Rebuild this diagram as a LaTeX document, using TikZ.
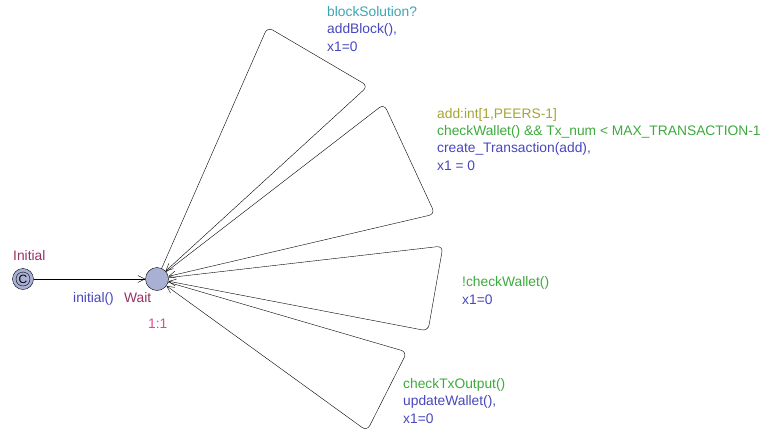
\documentclass[tikz,border=0pt]{standalone}
\usepackage{fontspec}
\setmainfont{Liberation Sans}
\usepackage{xcolor}
\usetikzlibrary{positioning, calc, arrows.meta}

\definecolor{locfill}{RGB}{168,176,212}
\definecolor{locname}{RGB}{150,50,100}
\definecolor{syncc}{RGB}{60,165,180}
\definecolor{assignc}{RGB}{70,70,190}
\definecolor{guardc}{RGB}{60,170,60}
\definecolor{selectc}{RGB}{165,165,50}
\definecolor{ratec}{RGB}{230,70,140}

\begin{document}
\begin{tikzpicture}[x=1pt, y=-1pt,
    loc/.style={circle, draw, fill=locfill, minimum size=23pt, inner sep=0pt},
    lbl/.style={anchor=base west, inner sep=0pt, align=left,
        font=\fontsize{13.8}{17.3}\selectfont},
    edge/.style={-{Straight Barb[length=7pt,width=7pt]}, rounded corners=6pt}]
    \useasboundingbox (0,0) rectangle (762,429);

    % Locations
    \node[loc, minimum size=21pt] (init) at (23,279) {};
    \draw (init.center) circle (7pt);
    \node[font=\fontsize{12}{12}\selectfont, inner sep=0pt] (initc) at (init) {C};
    \node[loc] (wait) at (157,279) {};
    \node[lbl, text=locname] (initname) at (13,260) {Initial};
    \node[lbl, text=locname] (waitname) at (124,302) {Wait};
    \node[lbl, text=ratec] (waitrate) at (148,328) {1:1};

    % Initial edge
    \draw[edge] (init) -- (wait);
    \node[lbl, text=assignc] (initlbl) at (73,302) {initial()};

    % Self loops
    \coordinate (a1) at (267.5,27);
    \coordinate (a2) at (368,86);
    \coordinate (b1) at (384,104);
    \coordinate (b2) at (435,214);
    \coordinate (c1) at (443,246);
    \coordinate (c2) at (428,331);
    \coordinate (d1) at (407,352);
    \coordinate (d2) at (367,431);
    \draw[edge] (wait) -- (a1) -- (a2) -- (wait);
    \draw[edge] (wait) -- (b1) -- (b2) -- (wait);
    \draw[edge] (wait) -- (c1) -- (c2) -- (wait);
    \draw[edge] (wait) -- (d1) -- (d2) -- (wait);

    % Labels (base = last line)
    \node[lbl] (lbla) at (327,51) {\textcolor{syncc}{blockSolution?}\\
        \textcolor{assignc}{addBlock(),}\\ \textcolor{assignc}{x1=0}};
    \node[lbl] (lblb) at (437,170) {\textcolor{selectc}{add:int[1,PEERS-1]}\\
        \textcolor{guardc}{checkWallet() \&\& Tx\_num < MAX\_TRANSACTION-1}\\
        \textcolor{assignc}{create\_Transaction(add),}\\ \textcolor{assignc}{x1 = 0}};
    \node[lbl] (lblc) at (462,304) {\textcolor{guardc}{!checkWallet()}\\
        \textcolor{assignc}{x1=0}};
    \node[lbl] (lbld) at (403,423) {\textcolor{guardc}{checkTxOutput()}\\
        \textcolor{assignc}{updateWallet(),}\\ \textcolor{assignc}{x1=0}};
\end{tikzpicture}
\end{document}
